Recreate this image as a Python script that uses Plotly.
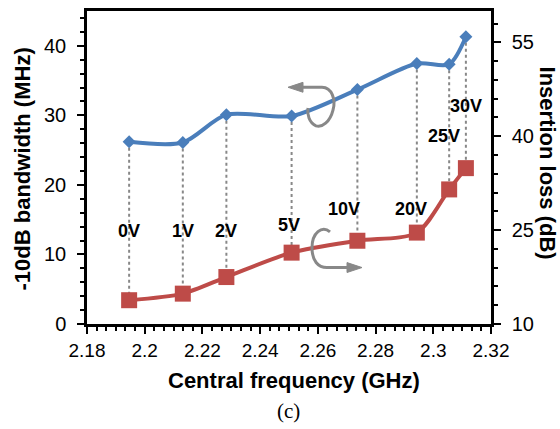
import plotly.graph_objects as go

# ---- data ----
voltages = ["0V", "1V", "2V", "5V", "10V", "20V", "25V", "30V"]
central_freq = [2.1946, 2.2132, 2.2283, 2.2509, 2.2737, 2.2943, 2.3055, 2.3113]
bandwidth = [26.2, 26.1, 30.1, 29.9, 33.7, 37.45, 37.35, 41.3]
insertion_loss = [13.8, 14.85, 17.5, 21.4, 23.3, 24.6, 31.5, 34.9]

x_ticks = [2.18, 2.2, 2.22, 2.24, 2.26, 2.28, 2.3, 2.32]
x_ticklabels = ["2.18", "2.2", "2.22", "2.24", "2.26", "2.28", "2.3", "2.32"]
y_range = [0, 45]
y2_range = [10, 60]

# label heights (left-axis units) and horizontal nudges
label_y = [13.4, 13.4, 13.4, 14.2, 16.5, 16.5, 27.0, 31.4]
label_dx = [0, 0, 0, -3, -13, -6, -5, 0]

# ---- layout geometry (pixels) ----
W, H = 560, 429
L, R, T, B = 87, 491, 8, 324


def px2x(px):
    return 2.18 + (px - L) / (R - L) * 0.14


def py2y(py):
    return (B - py) / (B - T) * 45


def pxp(px):
    return (px - L) / (R - L)


def pyp(py):
    return (B - py) / (B - T)


blue = "#4A7EBB"
red = "#BE4B48"
gray = "#888888"


def y2_to_y(v):
    return (v - y2_range[0]) / (y2_range[1] - y2_range[0]) * (y_range[1] - y_range[0])


drop_x, drop_y = [], []
for f, b, r in zip(central_freq, bandwidth, insertion_loss):
    drop_x += [f, f, None]
    drop_y += [b, y2_to_y(r), None]

fig = go.Figure()
fig.add_trace(go.Scatter(x=drop_x, y=drop_y, mode="lines",
                         line=dict(color=gray, width=2, dash="dot"),
                         hoverinfo="skip", showlegend=False))
fig.add_trace(go.Scatter(x=central_freq, y=insertion_loss, yaxis="y2",
                         mode="lines+markers",
                         line=dict(color=red, width=4, shape="spline", smoothing=0.8),
                         marker=dict(symbol="square", size=16, color=red),
                         showlegend=False))
fig.add_trace(go.Scatter(x=central_freq, y=bandwidth,
                         mode="lines+markers",
                         line=dict(color=blue, width=4, shape="spline", smoothing=0.8),
                         marker=dict(symbol="diamond", size=10, color=blue),
                         showlegend=False))

annotations = []
for v, f, ly, dx in zip(voltages, central_freq, label_y, label_dx):
    annotations.append(dict(x=f, y=ly, xref="x", yref="y", text=v, showarrow=False,
                            xshift=dx,
                            font=dict(family="Liberation Sans, Arial", size=18, color="black",
                                      weight="bold")))

title_font = dict(family="Liberation Sans, Arial", size=22, color="black", weight="bold")
annotations += [
    dict(x=pxp(294), y=pyp(381), xref="paper", yref="paper", text="Central frequency (GHz)",
         showarrow=False, font=title_font, xanchor="center", yanchor="middle"),
    dict(x=pxp(22), y=pyp(168), xref="paper", yref="paper", text="-10dB bandwidth (MHz)",
         showarrow=False, font=title_font, textangle=-90, xanchor="center", yanchor="middle"),
    dict(x=pxp(547), y=pyp(161), xref="paper", yref="paper", text="Insertion loss (dB)",
         showarrow=False, font=title_font, textangle=90, xanchor="center", yanchor="middle"),
    dict(x=pxp(288), y=pyp(412), xref="paper", yref="paper", text="(c)",
         showarrow=False, font=dict(family="Liberation Serif, Times New Roman", size=21, color="black"),
         xanchor="center", yanchor="middle"),
]


def path_px(pts_cmds):
    out = []
    for item in pts_cmds:
        if isinstance(item, str):
            out.append(item)
        else:
            out.append(f"{px2x(item[0]):.6f},{py2y(item[1]):.6f}")
    return " ".join(out)


# rotating-arrow decorations (pixel geometry)
blue_loop = path_px(["M", (302, 85), "L", (322, 85), "C", (332, 85), (336, 98), (333, 108),
                     "C", (330, 120), (322, 126), (316, 124), "C", (309, 121), (307, 112), (308, 106)])
blue_head = path_px(["M", (288, 85), "L", (303, 80), "L", (303, 90), "Z"])
red_loop = path_px(["M", (330, 231), "C", (322, 224), (312, 232), (312, 247),
                    "C", (312, 260), (318, 267), (327, 267), "L", (348, 267)])
red_head = path_px(["M", (362, 267), "L", (347, 262), "L", (347, 272), "Z"])

shapes = [
    dict(type="path", path=blue_loop, xref="x", yref="y", line=dict(color=gray, width=3), layer="above"),
    dict(type="path", path=blue_head, xref="x", yref="y", line=dict(color=gray, width=1),
         fillcolor=gray, layer="above"),
    dict(type="path", path=red_loop, xref="x", yref="y", line=dict(color=gray, width=3), layer="above"),
    dict(type="path", path=red_head, xref="x", yref="y", line=dict(color=gray, width=1),
         fillcolor=gray, layer="above"),
]

tick_font = dict(family="Liberation Sans, Arial", size=20, color="black")
xtick_font = dict(family="Liberation Sans, Arial", size=19, color="black")

fig.update_layout(
    width=W, height=H,
    margin=dict(l=L, r=W - R, t=T, b=H - B),
    paper_bgcolor="white", plot_bgcolor="white",
    showlegend=False,
    annotations=annotations,
    shapes=shapes,
    xaxis=dict(range=[2.18, 2.32], tickvals=x_ticks, ticktext=x_ticklabels,
               showgrid=False, zeroline=False, showline=True, linecolor="black", linewidth=2.5,
               mirror=True, ticks="outside", ticklen=7, tickwidth=2, tickcolor="black",
               tickfont=xtick_font,
               minor=dict(tick0=2.18, dtick=0.02 / 6, ticks="outside", ticklen=4,
                          tickwidth=1.5, tickcolor="black", showgrid=False)),
    yaxis=dict(range=y_range, dtick=10, tick0=0,
               showgrid=False, zeroline=False, showline=True, linecolor="black", linewidth=2.5,
               ticks="outside", ticklen=7, tickwidth=2, tickcolor="black",
               tickfont=tick_font, ticklabelstandoff=7,
               minor=dict(tick0=0, dtick=2, ticks="outside", ticklen=4,
                          tickwidth=1.5, tickcolor="black", showgrid=False)),
    yaxis2=dict(range=y2_range, dtick=15, tick0=10, overlaying="y", side="right",
                showgrid=False, zeroline=False, showline=True, linecolor="black", linewidth=2.5,
                ticks="outside", ticklen=7, tickwidth=2, tickcolor="black",
                tickfont=tick_font, ticklabelstandoff=7,
                minor=dict(tick0=10, dtick=3, ticks="outside", ticklen=4,
                           tickwidth=1.5, tickcolor="black", showgrid=False)),
)

fig.write_html("out.html", config={"displayModeBar": False},
               post_script="document.body.style.margin='0';document.body.style.overflow='hidden';")
